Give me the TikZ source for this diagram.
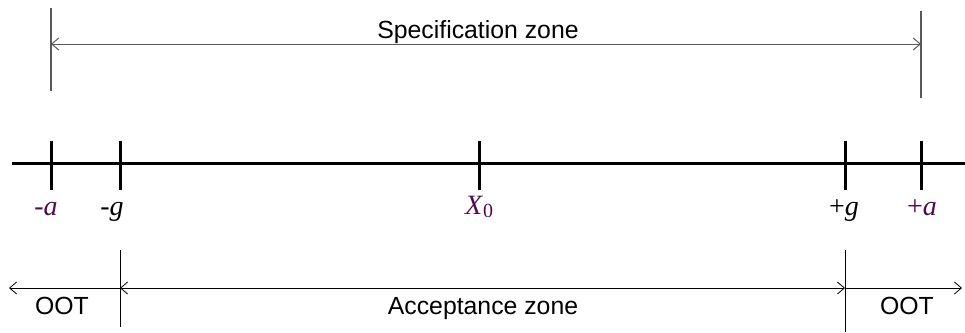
\documentclass[tikz,border=0pt]{standalone}
\usepackage{fontspec}
\setmainfont{Liberation Sans}
\newfontfamily\serifnum{Liberation Serif}
\usetikzlibrary{arrows.meta,positioning}
\definecolor{plum}{RGB}{80,12,80}

\begin{document}
\begin{tikzpicture}[x=1pt,y=-1pt,>={Straight Barb[length=7pt,width=12pt]}]
  \tikzstyle{zone}=[font=\fontsize{24.8}{27}\selectfont,inner sep=0pt,anchor=base]
  \tikzstyle{ticklabel}=[font=\serifnum\fontsize{28}{30}\selectfont,inner sep=0pt,anchor=base]
  \tikzstyle{tick}=[line width=3pt]
  \useasboundingbox (0,0) rectangle (965,332);
  % tick positions on the axis
  \coordinate (ma) at (51,163);
  \coordinate (mg) at (120,163);
  \coordinate (x0) at (479,163);
  \coordinate (pg) at (845,163);
  \coordinate (pa) at (921,163);
  \coordinate (axl) at (12,163);
  \coordinate (axr) at (965,163);
  \draw[tick] (axl) -- (axr);
  \foreach \t in {ma,mg,x0,pg,pa}
    \draw[tick] ([yshift=22pt]\t) -- ([yshift=-27pt]\t);
  \node[ticklabel,text=plum] (lma) at (46,215) {-\textit{a}};
  \node[ticklabel] (lmg) at (112,215) {-\textit{g}};
  \node[ticklabel,text=plum] (lx0) at (479,214) {\fontsize{28}{30}\selectfont\textit{X}\raisebox{-0.3ex}{\fontsize{20}{22}\selectfont 0}};
  \node[ticklabel] (lpg) at (844,215) {+\textit{g}};
  \node[ticklabel,text=plum] (lpa) at (922,215) {+\textit{a}};
  % specification zone
  \coordinate (s1t) at (51,8);
  \coordinate (s1b) at (51,91);
  \coordinate (s2t) at (921,11);
  \coordinate (s2b) at (921,98);
  \coordinate (s1) at (51,44);
  \coordinate (s2) at (921,44);
  \draw[gray!70!black,line width=1.3pt] (s1t) -- (s1b);
  \draw[gray!70!black,line width=1.3pt] (s2t) -- (s2b);
  \draw[gray!70!black,line width=1pt,<->] (s1) -- (s2);
  \node[zone] (spec) at (478,38) {Specification zone};
  % acceptance zone
  \coordinate (g1t) at (120,250);
  \coordinate (g1b) at (120,327);
  \coordinate (g2t) at (845,250);
  \coordinate (g2b) at (845,332);
  \coordinate (b0) at (9,288);
  \coordinate (b1) at (120,288);
  \coordinate (b2) at (845,288);
  \coordinate (b3) at (962,288);
  \draw[line width=1pt] (g1t) -- (g1b);
  \draw[line width=1pt] (g2t) -- (g2b);
  \draw[line width=0.8pt,->] (b1) -- (b0);
  \draw[line width=0.8pt,<->] (b1) -- (b2);
  \draw[line width=0.8pt,->] (b2) -- (b3);
  \node[zone] (oot1) at (62,314) {OOT};
  \node[zone] (acc) at (483,314) {Acceptance zone};
  \node[zone] (oot2) at (907,314) {OOT};
\end{tikzpicture}
\end{document}
